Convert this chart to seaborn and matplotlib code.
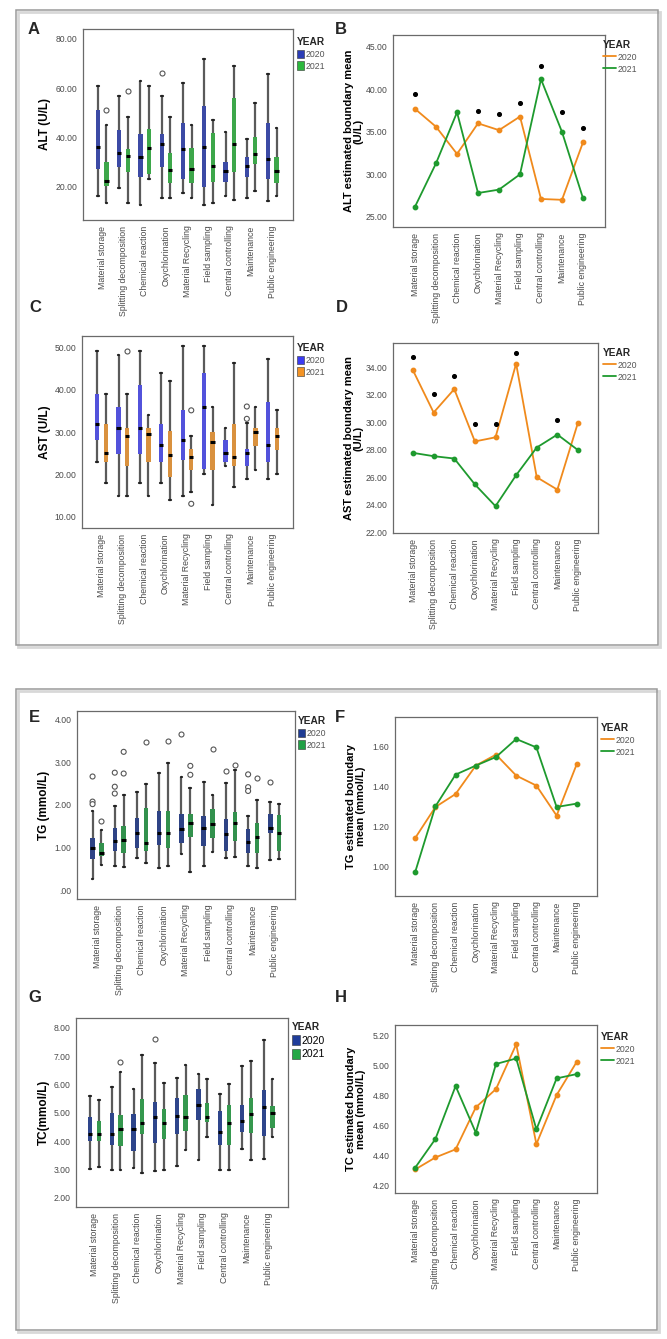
import matplotlib
matplotlib.use("Agg")
import matplotlib.pyplot as plt
from matplotlib.patches import Patch, Rectangle
from matplotlib.lines import Line2D
from matplotlib.ticker import FuncFormatter
import seaborn as sns
import pandas as pd

W, H = 667, 1339

categories = ["Material storage", "Splitting decomposition", "Chemical reaction",
              "Oxychlorination", "Material Recycling", "Field sampling",
              "Central controlling", "Maintenance", "Public engineering"]
years = ["2020", "2021"]

# box stats per category: (whisker low, q1, median, q3, whisker high)
alt_box_2020 = [(16.2, 27.0, 36.3, 51.2, 61.0), (19.3, 28.1, 33.6, 43.0, 57.0),
                (12.5, 24.0, 32.2, 41.2, 63.0), (15.5, 28.1, 37.2, 41.2, 57.0),
                (17.3, 23.0, 35.2, 46.0, 62.0), (12.5, 20.0, 36.3, 52.8, 71.8),
                (16.3, 22.0, 26.4, 30.2, 42.1), (15.3, 24.0, 28.4, 32.2, 39.3),
                (14.3, 23.1, 31.3, 46.0, 65.9)]
alt_box_2021 = [(13.5, 20.3, 22.4, 30.2, 45.1), (13.5, 26.1, 32.5, 35.2, 48.2),
                (23.1, 25.0, 35.6, 43.5, 61.0), (15.5, 21.6, 26.8, 33.7, 48.1),
                (15.5, 21.4, 27.2, 35.6, 45.1), (13.5, 22.0, 28.4, 42.0, 47.1),
                (14.6, 26.1, 37.2, 56.0, 68.8), (18.2, 29.1, 33.3, 40.1, 54.0),
                (16.3, 21.4, 26.4, 32.2, 44.0)]
alt_outliers = [(0, "2021", 51.2), (1, "2021", 59.0), (3, "2020", 66.0)]

ast_box_2020 = [(22.9, 28.0, 32.0, 39.0, 49.0), (14.9, 24.9, 30.9, 36.0, 48.2),
                (18.0, 24.9, 30.9, 41.1, 49.0), (18.0, 22.9, 27.0, 32.0, 44.0),
                (15.0, 23.3, 28.0, 35.1, 50.2), (20.0, 21.4, 36.0, 44.0, 50.2),
                (21.9, 22.9, 25.1, 28.0, 30.9), (18.9, 21.9, 25.1, 26.0, 32.1),
                (18.9, 22.9, 27.0, 37.1, 47.2)]
ast_box_2021 = [(18.0, 22.9, 25.1, 32.0, 39.0), (14.9, 21.9, 29.0, 30.9, 39.0),
                (15.0, 22.9, 29.5, 30.9, 34.1), (13.9, 19.3, 24.5, 30.3, 42.1),
                (15.9, 21.0, 24.1, 26.0, 29.0), (12.9, 21.0, 27.6, 29.9, 36.0),
                (17.0, 21.9, 24.1, 32.0, 46.2), (21.0, 26.8, 30.0, 30.9, 36.0),
                (20.0, 25.8, 29.0, 30.9, 35.1)]
ast_outliers = [(1, "2021", 49.0), (4, "2021", 35.1), (4, "2021", 13.1),
                (7, "2020", 36.0), (7, "2020", 33.1)]

tg_box_2020 = [(0.27, 0.72, 1.00, 1.22, 1.87), (0.56, 0.92, 1.15, 1.45, 1.98),
               (0.75, 1.00, 1.35, 1.70, 2.30), (0.51, 1.06, 1.33, 1.86, 2.75),
               (0.85, 1.11, 1.43, 1.80, 2.65), (0.56, 1.04, 1.45, 1.74, 2.55),
               (0.75, 0.92, 1.31, 1.66, 2.51), (0.56, 0.88, 1.14, 1.44, 1.73),
               (0.71, 1.35, 1.47, 1.80, 2.08)]
tg_box_2021 = [(0.59, 0.80, 0.88, 1.10, 1.41), (0.55, 0.88, 1.18, 1.51, 2.24),
               (0.63, 0.92, 1.10, 1.94, 2.49), (0.56, 1.00, 1.33, 1.86, 2.98),
               (0.43, 1.25, 1.57, 1.79, 2.39), (0.89, 1.23, 1.55, 1.91, 2.24),
               (0.77, 1.16, 1.58, 1.84, 2.82), (0.51, 0.86, 1.25, 1.57, 2.12),
               (0.73, 0.92, 1.33, 1.76, 2.02)]
tg_outliers = [(0, "2020", 2.67), (0, "2020", 2.08), (0, "2020", 2.02),
               (1, "2020", 2.76), (1, "2020", 2.43), (1, "2020", 2.27),
               (4, "2020", 3.66), (6, "2020", 2.81), (7, "2020", 2.72),
               (7, "2020", 2.42), (7, "2020", 2.33), (8, "2020", 2.53),
               (0, "2021", 1.63), (1, "2021", 3.25), (1, "2021", 2.74),
               (2, "2021", 3.47), (3, "2021", 3.51), (4, "2021", 2.92),
               (4, "2021", 2.71), (5, "2021", 3.32), (6, "2021", 2.94),
               (7, "2021", 2.64)]

tc_box_2020 = [(3.01, 4.01, 4.27, 4.86, 5.59), (3.00, 3.86, 4.27, 4.98, 5.92),
               (3.04, 3.66, 4.45, 4.95, 5.84), (2.95, 3.94, 4.84, 5.39, 6.76),
               (3.12, 4.27, 4.88, 5.53, 6.25), (3.35, 4.76, 5.27, 5.86, 6.39),
               (3.00, 3.88, 4.33, 5.07, 5.66), (3.71, 4.33, 4.72, 5.27, 6.65),
               (3.39, 4.18, 5.21, 5.80, 7.56)]
tc_box_2021 = [(3.09, 4.01, 4.27, 4.71, 5.45), (3.00, 3.82, 4.45, 4.92, 6.45),
               (2.88, 4.25, 4.65, 5.48, 7.04), (2.98, 4.09, 4.66, 5.15, 6.07),
               (3.68, 4.35, 4.84, 5.65, 6.68), (4.15, 4.68, 4.86, 5.35, 6.21),
               (3.00, 3.88, 4.65, 5.29, 6.01), (3.35, 4.29, 4.95, 5.54, 6.82),
               (4.15, 4.48, 5.00, 5.24, 6.21)]
tc_outliers = [(1, "2021", 6.80), (3, "2020", 7.62)]

# estimated boundary means
alt_mean_2020 = [37.7, 35.6, 32.4, 36.0, 35.2, 36.8, 27.1, 27.0, 33.75]
alt_mean_2021 = [26.2, 31.3, 37.3, 27.8, 28.2, 30.0, 41.2, 35.0, 27.2]
alt_star_idx = [0, 3, 4, 5, 6, 7, 8]
alt_star_y = [39.4, 37.5, 37.1, 38.4, 42.7, 37.3, 35.5]

ast_mean_2020 = [33.76, 30.7, 32.4, 28.6, 28.9, 34.25, 26.0, 25.1, 29.97]
ast_mean_2021 = [27.77, 27.53, 27.36, 25.48, 23.9, 26.15, 28.16, 29.1, 27.97]
ast_star_idx = [0, 1, 2, 3, 4, 5, 7]
ast_star_y = [34.73, 32.07, 33.35, 29.9, 29.85, 35.04, 30.14]

tg_mean_2020 = [1.145, 1.300, 1.365, 1.507, 1.562, 1.457, 1.407, 1.257, 1.515]
tg_mean_2021 = [0.975, 1.303, 1.462, 1.507, 1.550, 1.640, 1.598, 1.300, 1.317]

tc_mean_2020 = [4.304, 4.384, 4.438, 4.718, 4.840, 5.138, 4.473, 4.800, 5.022]
tc_mean_2021 = [4.316, 4.507, 4.860, 4.549, 5.007, 5.044, 4.571, 4.911, 4.940]

line_palette = {"2020": "#F08A1C", "2021": "#1E9A2E"}

sns.set_style("white")
plt.rcParams["font.family"] = ["Liberation Sans", "DejaVu Sans"]

fig = plt.figure(figsize=(W / 100, H / 100), dpi=100)


def make_ax(x0, y0, x1, y1):
    return fig.add_axes([x0 / W, 1 - y1 / H, (x1 - x0) / W, (y1 - y0) / H])


def tick_fmt(v, pos):
    s = f"{v:.2f}"
    return s[1:] if s.startswith("0.") else s


def style_ax(ax, box, ylabel, label_x, ylim, yticks, xlim, label_size=8.5):
    x0, y0, x1, y1 = box
    ax.set_xlim(*xlim)
    ax.set_ylim(*ylim)
    ax.set_yticks(yticks)
    ax.yaxis.set_major_formatter(FuncFormatter(tick_fmt))
    ax.set_xticks(range(len(categories)))
    ax.set_xticklabels(categories, rotation=90, fontsize=6.3, color="#4a4a4a")
    ax.tick_params(axis="both", length=2.5, width=0.7, color="#777777", pad=1.5)
    ax.tick_params(axis="y", labelsize=6.2, labelcolor="#4a4a4a")
    ax.set_xlabel("")
    ax.set_ylabel(ylabel, fontsize=label_size, fontweight="bold", color="black",
                  linespacing=0.9)
    ax.yaxis.label.set_verticalalignment("center")
    ax.yaxis.set_label_coords((label_x - x0) / (x1 - x0), 0.5)
    ax.grid(False)
    for s in ax.spines.values():
        s.set_visible(True)
        s.set_color("#6a6a6a")
        s.set_linewidth(0.9)


def add_legend(ax, handles, xy, handlelength, fontsize=6.3, color="#555555"):
    leg = ax.legend(handles, years, title="YEAR", loc="upper left",
                    bbox_to_anchor=(xy[0] / W, 1 - xy[1] / H),
                    bbox_transform=fig.transFigure, frameon=False,
                    borderaxespad=0, borderpad=0, handlelength=handlelength,
                    handleheight=1.1, handletextpad=0.2, labelspacing=0.3,
                    fontsize=fontsize, alignment="left",
                    title_fontproperties={"weight": "bold", "size": 7.3})
    for t in leg.get_texts():
        t.set_color(color)


def box_panel(box, stats_2020, stats_2021, outliers, palette, ylabel, label_x,
              ylim, yticks, xlim, legend_xy, legend_font=6.3, legend_color="#555555"):
    ax = make_ax(*box)
    rows = []
    for year, stats in zip(years, (stats_2020, stats_2021)):
        for cat, five in zip(categories, stats):
            for v in five:
                rows.append((cat, year, v))
    df = pd.DataFrame(rows, columns=["cat", "year", "value"])
    sns.boxplot(data=df, x="cat", y="value", hue="year", order=categories,
                hue_order=years, palette=palette, width=0.8, gap=0.5,
                whis=(0, 100), showfliers=False, linecolor="#5a5a5a",
                linewidth=1.6, legend=False, ax=ax,
                boxprops=dict(linewidth=0),
                medianprops=dict(color="black", linewidth=2.2),
                whiskerprops=dict(color="#5a5a5a", linewidth=1.6),
                capprops=dict(color="#222222", linewidth=1.6),
                capwidths=0.08)
    out = pd.DataFrame([(categories[i], y, v) for i, y, v in outliers],
                       columns=["cat", "year", "value"])
    sns.stripplot(data=out, x="cat", y="value", hue="year", order=categories,
                  hue_order=years, dodge=True, jitter=False,
                  palette={"2020": "white", "2021": "white"},
                  edgecolor="#555555", linewidth=0.8, size=3.6,
                  legend=False, ax=ax, zorder=4)
    style_ax(ax, box, ylabel, label_x, ylim, yticks, xlim)
    handles = [Patch(facecolor=palette[y], edgecolor="#333333", linewidth=0.4) for y in years]
    add_legend(ax, handles, legend_xy, 0.75, legend_font, legend_color)
    return ax


def line_panel(box, mean_2020, mean_2021, ylabel, label_x, ylim, yticks, xlim,
               legend_xy, star_idx=None, star_y=None):
    ax = make_ax(*box)
    df = pd.DataFrame({"cat": categories * 2,
                       "year": ["2020"] * len(categories) + ["2021"] * len(categories),
                       "mean": list(mean_2020) + list(mean_2021)})
    sns.pointplot(data=df, x="cat", y="mean", hue="year", order=categories,
                  hue_order=years, palette=line_palette, markers="o",
                  markersize=3.2, linewidth=1.3, errorbar=None, legend=False, ax=ax)
    if star_idx is not None:
        ax.scatter(star_idx, star_y, s=7, color="black", zorder=5)
    style_ax(ax, box, ylabel, label_x, ylim, yticks, xlim, label_size=8.0)
    handles = [Line2D([], [], color=line_palette[y], linewidth=1.3) for y in years]
    add_legend(ax, handles, legend_xy, 1.5)
    return ax


# A -- ALT boxplots
box_panel((83, 29, 293, 220), alt_box_2020, alt_box_2021, alt_outliers,
          {"2020": "#2B3DB6", "2021": "#2CB83D"}, "ALT (U/L)", 45,
          (6.5, 84), [20, 40, 60, 80], (-0.9, 8.97), (297, 37))

# B -- ALT estimated means
line_panel((393, 35, 605, 227), alt_mean_2020, alt_mean_2021,
           "ALT estimated boundary mean\n(U/L)", 354, (23.8, 46.4),
           [25, 30, 35, 40, 45], (-1.05, 9.05), (603, 40), alt_star_idx, alt_star_y)

# C -- AST boxplots
box_panel((82, 336, 293, 528), ast_box_2020, ast_box_2021, ast_outliers,
          {"2020": "#3B3BF2", "2021": "#F39324"}, "AST (U/L)", 45,
          (7.4, 52.6), [10, 20, 30, 40, 50], (-0.91, 8.96), (297, 343))

# D -- AST estimated means
line_panel((393, 343, 598, 533), ast_mean_2020, ast_mean_2021,
           "AST estimated boundary mean\n(U/L)", 354, (21.95, 35.75),
           [22, 24, 26, 28, 30, 32, 34], (-0.97, 8.97), (603, 348),
           ast_star_idx, ast_star_y)

# E -- TG boxplots
box_panel((77, 711, 295, 899), tg_box_2020, tg_box_2021, tg_outliers,
          {"2020": "#1F3C94", "2021": "#22A146"}, "TG (mmol/L)", 44,
          (-0.21, 4.21), [0, 1, 2, 3, 4], (-0.9, 8.91), (298, 716))

# F -- TG estimated means
line_panel((395, 717, 597, 896), tg_mean_2020, tg_mean_2021,
           "TG estimated boundary\nmean (mmol/L)", 356, (0.855, 1.75),
           [1.0, 1.2, 1.4, 1.6], (-1, 9), (601, 723))

# G -- TC boxplots
box_panel((76, 1018, 288, 1207), tc_box_2020, tc_box_2021, tc_outliers,
          {"2020": "#1F3D9A", "2021": "#25A846"}, "TC(mmol/L)", 44,
          (1.68, 8.35), [2, 3, 4, 5, 6, 7, 8], (-0.85, 8.92), (292, 1022),
          legend_font=7.5, legend_color="black")

# H -- TC estimated means
line_panel((395, 1025, 597, 1193), tc_mean_2020, tc_mean_2021,
           "TC estimated boundary\nmean (mmol/L)", 356, (4.147, 5.267),
           [4.2, 4.4, 4.6, 4.8, 5.0, 5.2], (-1, 9), (601, 1032))

# panel letters
for letter, (lx, ly) in {"A": (34, 29), "B": (341, 29), "C": (35, 308), "D": (342, 308),
                         "E": (34, 717), "F": (340, 717), "G": (35, 997),
                         "H": (341, 997)}.items():
    fig.text(lx / W, 1 - ly / H, letter, fontsize=12, fontweight="bold",
             ha="center", va="center")

# framed groups with a light shadow
for (fx0, fy0, fx1, fy1) in [(16, 10, 658, 645), (16, 689, 657, 1330)]:
    fig.add_artist(Rectangle(((fx0 + 2) / W, 1 - (fy1 + 2) / H), (fx1 - fx0) / W,
                             (fy1 - fy0) / H, transform=fig.transFigure, fill=False,
                             edgecolor="#d8d8d8", linewidth=2.0, zorder=0))
    fig.add_artist(Rectangle((fx0 / W, 1 - fy1 / H), (fx1 - fx0) / W,
                             (fy1 - fy0) / H, transform=fig.transFigure, fill=False,
                             edgecolor="#9a9a9a", linewidth=1.1, zorder=1))

fig.savefig("out.png", dpi=100)
